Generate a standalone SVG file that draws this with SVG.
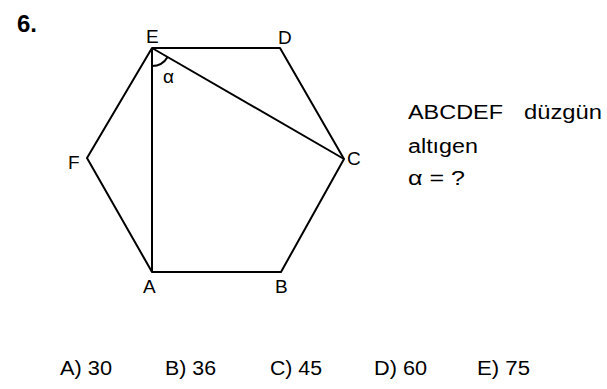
<svg xmlns="http://www.w3.org/2000/svg" width="607" height="389" viewBox="0 0 607 389">
<style>
.ln{stroke:#000;stroke-width:2;fill:none;stroke-linejoin:round}
.lb{font-family:"Liberation Sans",Arial,sans-serif;font-size:19px;fill:#000}
.tx{font-family:"Liberation Sans",Arial,sans-serif;font-size:20px;fill:#000}
</style>
<rect width="607" height="389" fill="#fff"/>
<text x="17" y="32" font-family="Liberation Sans,Arial,sans-serif" font-weight="bold" font-size="24">6.</text>
<g id="connectors">
<polygon class="ln" points="152,48 280,48 344,159 281,272 152,272 87,158"/>
<line class="ln" x1="152" y1="48" x2="152" y2="272"/>
<line class="ln" x1="152" y1="48" x2="344" y2="159"/>
<path class="ln" d="M152,66 A18,18 0 0 0 167.6,57"/>
</g>
<g id="E"><text class="lb" x="146" y="43">E</text></g>
<g id="D"><text class="lb" x="278" y="44">D</text></g>
<g id="C"><text class="lb" x="347" y="165">C</text></g>
<g id="B"><text class="lb" x="275" y="293">B</text></g>
<g id="A"><text class="lb" x="143" y="293">A</text></g>
<g id="F"><text class="lb" x="68" y="169">F</text></g>
<text class="lb" x="163" y="83" font-size="20">α</text>
<text class="tx" x="408" y="119" textLength="95" lengthAdjust="spacingAndGlyphs">ABCDEF</text>
<text class="tx" x="524" y="119" textLength="78" lengthAdjust="spacingAndGlyphs">düzgün</text>
<text class="tx" x="408" y="153" textLength="70" lengthAdjust="spacingAndGlyphs">altıgen</text>
<text class="tx" x="408" y="185" textLength="57" lengthAdjust="spacingAndGlyphs">α = ?</text>
<text class="tx" x="60" y="375" textLength="52" lengthAdjust="spacingAndGlyphs">A) 30</text>
<text class="tx" x="165" y="375" textLength="51" lengthAdjust="spacingAndGlyphs">B) 36</text>
<text class="tx" x="270" y="375" textLength="52" lengthAdjust="spacingAndGlyphs">C) 45</text>
<text class="tx" x="374" y="375" textLength="53" lengthAdjust="spacingAndGlyphs">D) 60</text>
<text class="tx" x="477" y="375" textLength="53" lengthAdjust="spacingAndGlyphs">E) 75</text>
</svg>
